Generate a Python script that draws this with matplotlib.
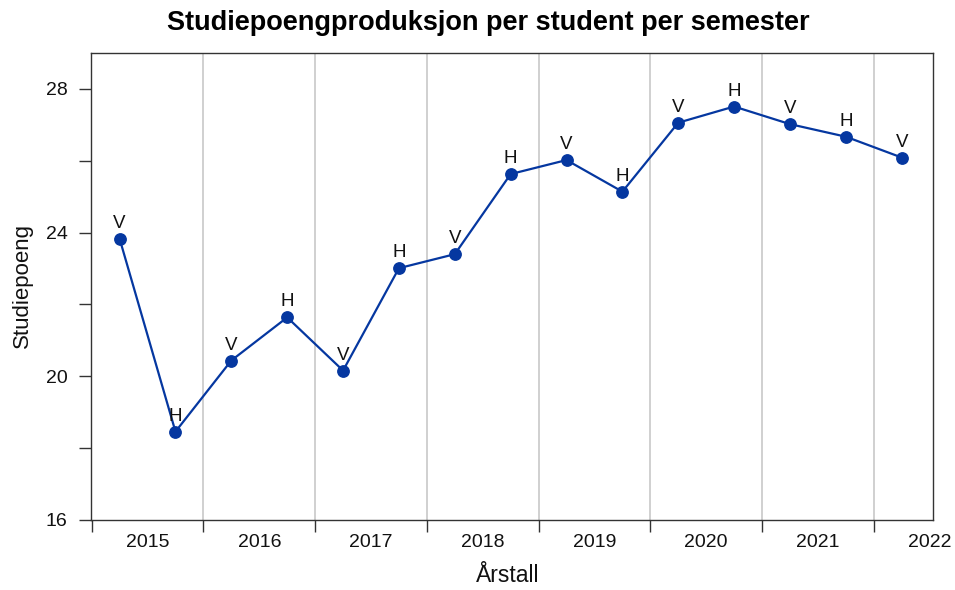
import matplotlib
matplotlib.use("Agg")
import matplotlib.pyplot as plt
from matplotlib.ticker import FixedLocator, NullFormatter, FixedFormatter

plt.rcParams['font.family'] = ['Liberation Sans', 'DejaVu Sans']

years = [2015, 2015, 2016, 2016, 2017, 2017, 2018, 2018, 2019, 2019, 2020, 2020, 2021, 2021, 2022]
semesters = ['V', 'H', 'V', 'H', 'V', 'H', 'V', 'H', 'V', 'H', 'V', 'H', 'V', 'H', 'V']
values = [23.83, 18.46, 20.44, 21.64, 20.16, 23.01, 23.40, 25.63, 26.02, 25.14,
          27.06, 27.51, 27.02, 26.67, 26.09]
year_labels = ['2015', '2016', '2017', '2018', '2019', '2020', '2021', '2022']
title = 'Studiepoengproduksjon per student per semester'
xlabel = 'Årstall'
ylabel = 'Studiepoeng'

offset = {'V': 0.25, 'H': 0.75}
xs = [y + offset[s] for y, s in zip(years, semesters)]

color = '#0537A0'

fig = plt.figure(figsize=(9.55, 5.9), dpi=100)
ax = fig.add_axes([91 / 955, 1 - 520 / 590, (933 - 91) / 955, (520 - 53) / 590])

year_starts = [int(y) for y in year_labels]
for yb in year_starts[1:]:
    ax.axvline(yb, color='#C8C8C8', lw=1.2, zorder=1)

ax.plot(xs, values, '-', color=color, lw=1.6, marker='o', ms=8.2, zorder=3)
for x, v, s in zip(xs, values, semesters):
    ax.annotate(s, (x, v), xytext=(0, 5), textcoords='offset points',
                ha='center', va='bottom', fontsize=13.5, color='#111111')

ax.set_xlim(2014.994, 2022.53)
ax.set_ylim(16, 29)

# x ticks at year boundaries, labels in the middle
ax.xaxis.set_major_locator(FixedLocator(year_starts))
ax.xaxis.set_major_formatter(NullFormatter())
ax.xaxis.set_minor_locator(FixedLocator([y + 0.5 for y in year_starts]))
ax.xaxis.set_minor_formatter(FixedFormatter(year_labels))
ax.tick_params(axis='x', which='major', length=8.6, width=1.0, color='#333333', direction='out')
ax.tick_params(axis='x', which='minor', length=0, pad=10, labelsize=14, labelcolor='#111111')

ax.yaxis.set_major_locator(FixedLocator([16, 20, 24, 28]))
ax.yaxis.set_minor_locator(FixedLocator([18, 22, 26]))
ax.yaxis.set_minor_formatter(NullFormatter())
ax.tick_params(axis='y', which='both', length=9, width=1.0, color='#333333', direction='out',
               pad=8, labelsize=14, labelcolor='#111111')

for sp in ax.spines.values():
    sp.set_color('#333333')
    sp.set_linewidth(1.0)

fig.text(22 / 955, 1 - 286 / 590, ylabel, rotation=90, ha='center', va='center',
         fontsize=16, color='#111111')
fig.text(508 / 955, 1 - 576 / 590, xlabel, ha='center', va='center',
         fontsize=16.5, color='#111111')
fig.text(488 / 955, 1 - 23 / 590, title, ha='center', va='center',
         fontsize=19.5, fontweight='bold', color='#000000')

fig.savefig('out.png', dpi=100)
